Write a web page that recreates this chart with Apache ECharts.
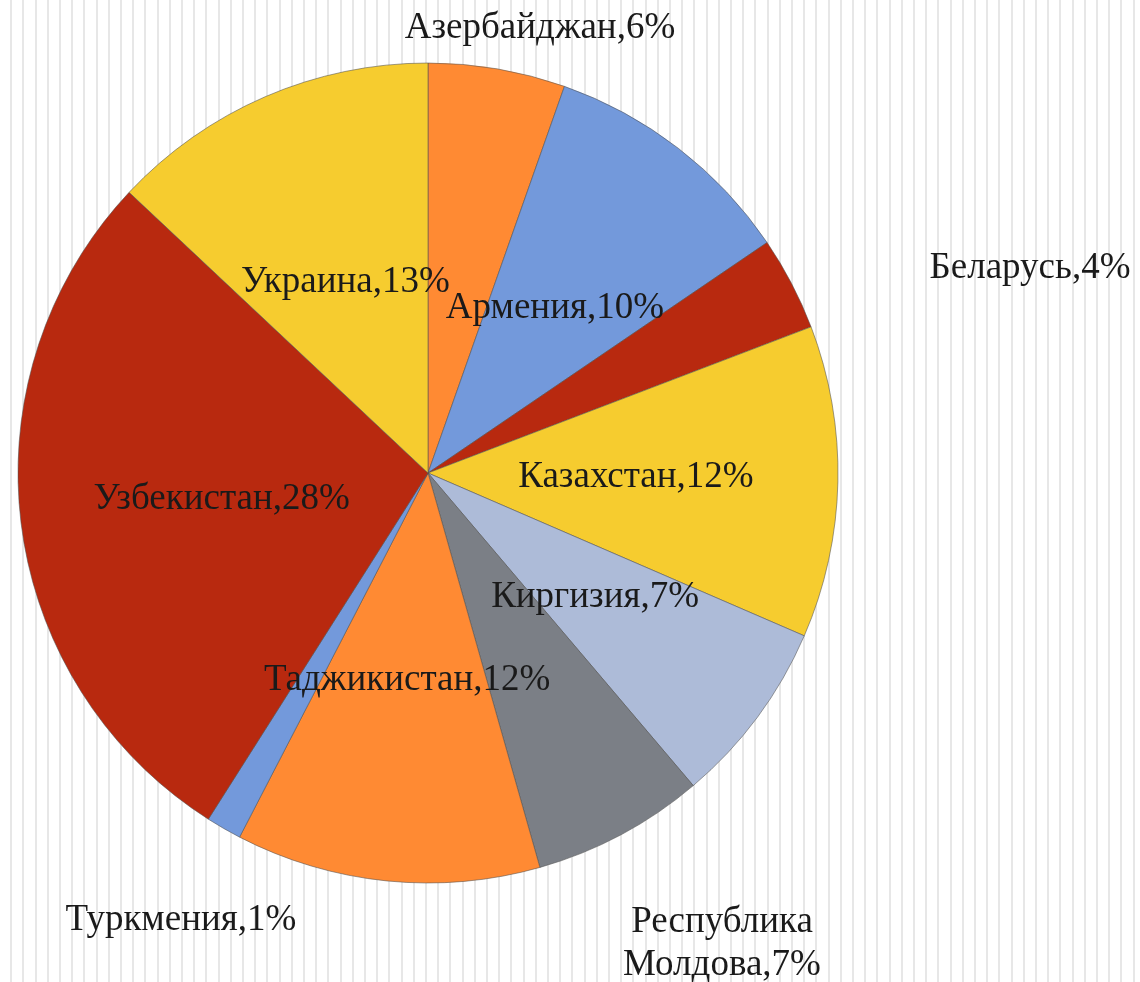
<!DOCTYPE html>
<html>
<head>
<meta charset="utf-8">
<script src="https://cdn.jsdelivr.net/npm/echarts@6/dist/echarts.min.js"></script>
<style>
  html, body { margin: 0; padding: 0; }
  body {
    width: 1140px; height: 982px;
    background: repeating-linear-gradient(90deg, #ffffff 0px, #ffffff 10.2px, #e7e7e7 10.2px, #e7e7e7 12.2px);
  }
  #chart { width: 1140px; height: 982px; }
</style>
</head>
<body>
<div id="chart"></div>
<script>
// страны, по часовой стрелке от верха
var countries = ['Азербайджан', 'Армения', 'Беларусь', 'Казахстан', 'Киргизия',
  'Республика Молдова', 'Таджикистан', 'Туркмения', 'Узбекистан', 'Украина'];
// доли (оценка по углам секторов)
var shares = [5.4, 10.1, 3.7, 12.3, 7.3, 6.8, 12.0, 1.4, 28.0, 13.0];
// подписи процентов как на картинке
var percentLabels = ['6%', '10%', '4%', '12%', '7%', '7%', '12%', '1%', '28%', '13%'];

var colors = ['#FF8A33', '#7399DB', '#B8290F', '#F6CC2F', '#ADBBD8',
  '#7B7F86', '#FF8A33', '#7399DB', '#B8290F', '#F6CC2F'];

// подписи, вынесенные за круг
var outsidePos = {
  'Азербайджан': [540, 28],
  'Беларусь': [1030, 268],
  'Туркмения': [181, 920],
  'Республика Молдова': [722, 944]
};

var chartDom = document.getElementById('chart');
var pieChart = echarts.init(chartDom);

var data = countries.map(function (name, i) {
  return { name: name, value: shares[i], itemStyle: { color: colors[i] } };
});

var option = {
  animation: false,
  series: [
    {
      type: 'pie',
      center: [428, 473],
      radius: 410,
      startAngle: 90,
      clockwise: true,
      avoidLabelOverlap: false,
      itemStyle: {
        borderColor: 'rgba(80,80,80,0.55)',
        borderWidth: 1
      },
      label: {
        show: true,
        position: 'inside',
        fontFamily: 'Liberation Serif',
        fontSize: 37,
        lineHeight: 43,
        color: '#1a1a1a',
        formatter: function (p) {
          var n = p.name.replace('Республика ', 'Республика\n');
          return n + ',' + percentLabels[p.dataIndex];
        }
      },
      labelLine: { show: false },
      labelLayout: function (params) {
        var name = countries[params.dataIndex];
        if (outsidePos[name]) {
          return { x: outsidePos[name][0], y: outsidePos[name][1] };
        }
        return {};
      },
      emphasis: { disabled: true },
      data: data
    }
  ]
};
option && pieChart.setOption(option);
</script>
</body>
</html>
